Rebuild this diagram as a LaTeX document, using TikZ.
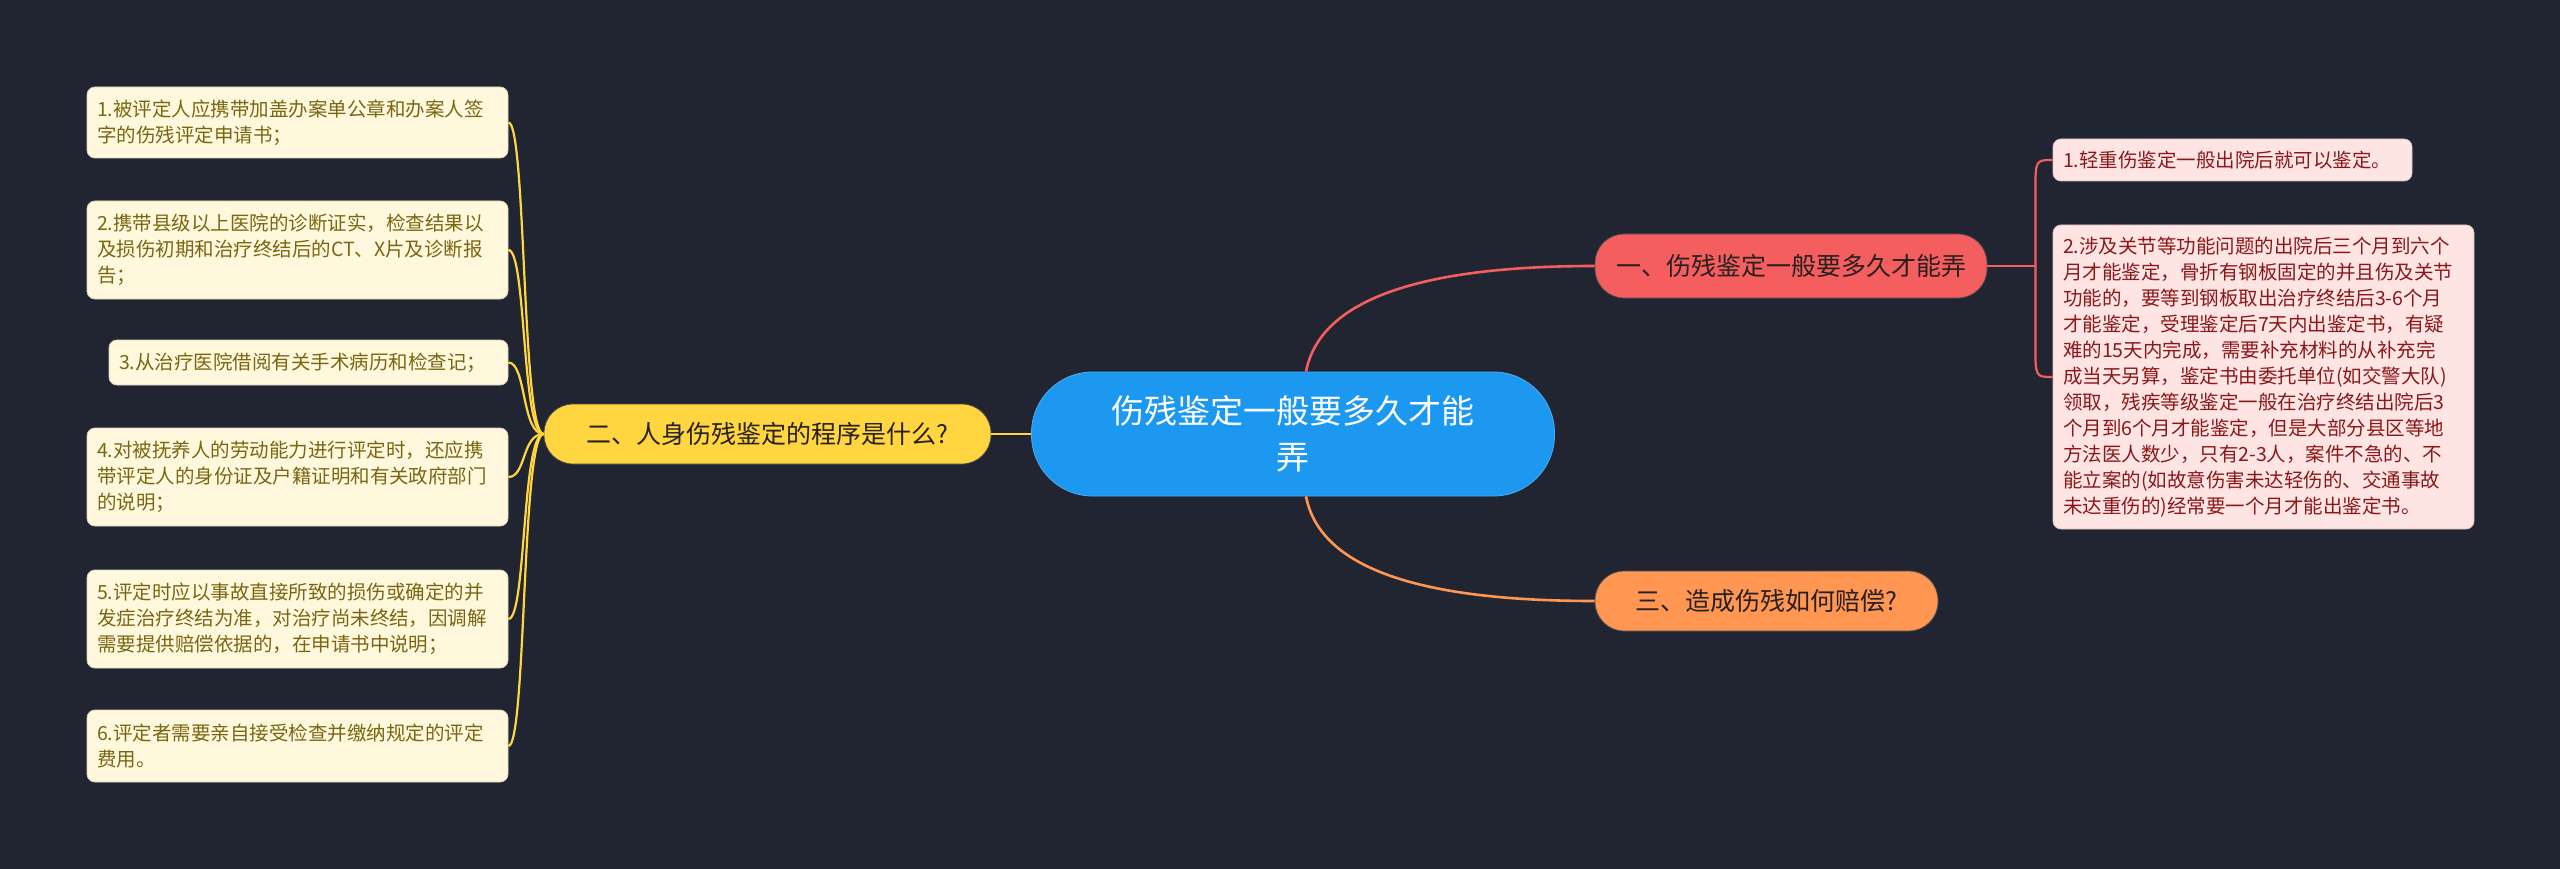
\documentclass[tikz,border=0pt]{standalone}
\usepackage{fontspec}
\usetikzlibrary{calc}
\setmainfont{Noto Sans CJK SC}
\definecolor{bg}{RGB}{33,37,50}
\definecolor{cblue}{RGB}{28,152,240}
\definecolor{cyellow}{RGB}{255,214,64}
\definecolor{cred}{RGB}{245,94,94}
\definecolor{corange}{RGB}{255,150,82}
\definecolor{lyfill}{RGB}{255,248,221}
\definecolor{lytext}{RGB}{122,102,18}
\definecolor{lrfill}{RGB}{255,228,228}
\definecolor{lrtext}{RGB}{138,24,24}
\definecolor{btext}{RGB}{40,32,32}
\begin{document}
\begin{tikzpicture}[x=1pt,y=-1pt,
  leafy/.style={draw=lyfill!85!black, line width=0.8pt, fill=lyfill, rounded corners=8pt, text=lytext,
    font=\fontsize{19.5}{26}\selectfont, align=left, inner xsep=10pt, inner ysep=0pt},
  leafr/.style={draw=lrfill!85!black, line width=0.8pt, fill=lrfill, rounded corners=8pt, text=lrtext,
    font=\fontsize{19.5}{26}\selectfont, align=left, inner xsep=10pt, inner ysep=0pt},
  branch/.style={draw=black!70, line width=0.8pt, rounded corners=29pt, text=btext,
    font=\fontsize{25}{30}\selectfont, align=center, inner sep=0pt},
  central/.style={fill=cblue, draw=cblue!80!white, line width=0.8pt, rounded corners=61pt, text=white,
    font=\fontsize{33}{46}\selectfont, align=center, inner sep=0pt},
  ylink/.style={draw=cyellow, line width=2.6pt},
  ylink2/.style={draw=cyellow, line width=2.2pt},
  rlink/.style={draw=cred, line width=2.6pt},
  rlink2/.style={draw=cred, line width=2.2pt},
  olink/.style={draw=corange, line width=2.6pt}]
\fill[bg] (0,0) rectangle (2560,869);
\useasboundingbox (0,0) rectangle (2560,869);

% central
\node[central, minimum width=523pt, minimum height=124pt] (c) at (1293,434) {伤残鉴定一般要多久才能\\弄};

% branches
\node[branch, fill=cyellow, minimum width=447pt, minimum height=60pt] (b2) at (767.5,434) {二、人身伤残鉴定的程序是什么?};
\node[branch, fill=cred, minimum width=392pt, minimum height=64pt] (b1) at (1791,266) {一、伤残鉴定一般要多久才能弄};
\node[branch, fill=corange, minimum width=343pt, minimum height=60pt] (b3) at (1766.5,601) {三、造成伤残如何赔偿?};

% left leaves
\node[leafy, minimum width=421pt, minimum height=71pt, text width=401pt] (l1) at (297.5,122.5)
  {1.被评定人应携带加盖办案单公章和办案人签\\字的伤残评定申请书；};
\node[leafy, minimum width=421pt, minimum height=98pt, text width=401pt] (l2) at (297.5,250)
  {2.携带县级以上医院的诊断证实，检查结果以\\及损伤初期和治疗终结后的CT、X片及诊断报\\告；};
\node[leafy, minimum width=399pt, minimum height=45pt, text width=379pt] (l3) at (308.5,362.5)
  {3.从治疗医院借阅有关手术病历和检查记；};
\node[leafy, minimum width=421pt, minimum height=98pt, text width=401pt] (l4) at (297.5,477)
  {4.对被抚养人的劳动能力进行评定时，还应携\\带评定人的身份证及户籍证明和有关政府部门\\的说明；};
\node[leafy, minimum width=421pt, minimum height=98pt, text width=401pt] (l5) at (297.5,619)
  {5.评定时应以事故直接所致的损伤或确定的并\\发症治疗终结为准，对治疗尚未终结，因调解\\需要提供赔偿依据的，在申请书中说明；};
\node[leafy, minimum width=421pt, minimum height=72pt, text width=401pt] (l6) at (297.5,746)
  {6.评定者需要亲自接受检查并缴纳规定的评定\\费用。};

% right leaves
\node[leafr, minimum width=359pt, minimum height=42pt, text width=339pt] (r1) at (2232.5,160)
  {1.轻重伤鉴定一般出院后就可以鉴定。};
\node[leafr, minimum width=421pt, minimum height=304pt, text width=401pt] (r2) at (2263.5,377)
  {2.涉及关节等功能问题的出院后三个月到六个\\月才能鉴定，骨折有钢板固定的并且伤及关节\\功能的，要等到钢板取出治疗终结后3-6个月\\才能鉴定，受理鉴定后7天内出鉴定书，有疑\\难的15天内完成，需要补充材料的从补充完\\成当天另算，鉴定书由委托单位(如交警大队)\\领取，残疾等级鉴定一般在治疗终结出院后3\\个月到6个月才能鉴定，但是大部分县区等地\\方法医人数少，只有2-3人，案件不急的、不\\能立案的(如故意伤害未达轻伤的、交通事故\\未达重伤的)经常要一个月才能出鉴定书。};

% junction point on the right
\coordinate (rs) at ([xshift=48pt]b1.east);

% connectors
\draw[ylink] (c.west) -- (b2.east);
\draw[rlink] ([xshift=13pt]c.north) .. controls +(14,-72) and +(-175,0) .. (b1.west);
\draw[olink] ([xshift=13pt]c.south) .. controls +(14,72) and +(-175,0) .. (b3.west);

\foreach \n in {l1,l2,l3,l4,l5,l6}{
  \draw[ylink2] (b2.west) .. controls +(-22,0) and +(18,0) .. (\n.east);
}
\draw[rlink2] (b1.east) -- (rs);
\foreach \n/\s in {r1/1,r2/-1}{
  \draw[rlink2] (rs) -- ($(rs |- \n.west)+(0,\s*32)$) .. controls (rs |- \n.west) .. (\n.west);
}
\end{tikzpicture}
\end{document}
